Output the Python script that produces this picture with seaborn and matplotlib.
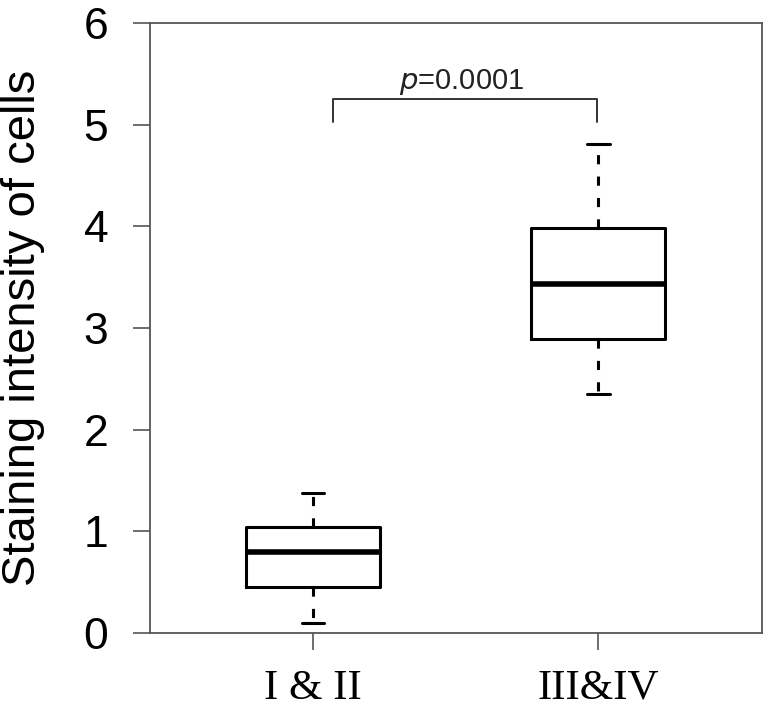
import numpy as np
import pandas as pd
import matplotlib
matplotlib.use("Agg")
import matplotlib.pyplot as plt
import seaborn as sns

# five-number summaries (min, q1, median, q3, max)
groups = ["I & II", "III&IV"]
stage_12 = [0.10, 0.45, 0.80, 1.04, 1.38]
stage_34 = [2.35, 2.89, 3.43, 3.98, 4.81]
p_label = "=0.0001"
y_ticks = [0, 1, 2, 3, 4, 5, 6]

df = pd.DataFrame({
    "group": [groups[0]] * len(stage_12) + [groups[1]] * len(stage_34),
    "value": stage_12 + stage_34,
})

sns.set_style("white")
plt.rcParams["font.family"] = ["Liberation Sans", "DejaVu Sans"]

fig = plt.figure(figsize=(7.67, 7.07), dpi=100)
ax = fig.add_axes([0.1956, 0.1047, 0.7979, 0.8628])

line_kw = dict(color="black", linewidth=2.2)
sns.boxplot(data=df, x="group", y="value", order=groups, ax=ax,
            whis=np.inf, width=0.47, fill=False, color="black",
            boxprops=line_kw,
            medianprops=dict(color="black", linewidth=4),
            whiskerprops=dict(color="black", linewidth=2.2, linestyle=(0, (3, 4))),
            capprops=line_kw,
            capwidths=0.08)

ax.set_xlim(-0.572, 1.575)
ax.set_ylim(0, 6)
ax.set_yticks(y_ticks)
ax.set_xlabel("")
ax.set_ylabel("Staining intensity of cells", fontsize=34, color="black")
ax.yaxis.set_label_coords(-0.172, 0.5)
ax.tick_params(axis="y", labelsize=32, length=12, width=1.2, color="#555555",
               labelcolor="black", direction="out", left=True, pad=18)
ax.tick_params(axis="x", length=12, width=1.2, color="#555555",
               labelcolor="black", direction="out", bottom=True, pad=14)
for lab in ax.get_xticklabels():
    lab.set_fontfamily("Liberation Serif")
    lab.set_fontsize(31)
for s in ax.spines.values():
    s.set_visible(True)
    s.set_color("#555555")
    s.set_linewidth(1.3)

# significance bracket
ax.plot([0.07, 0.07, 0.997, 0.997], [5.03, 5.25, 5.25, 5.03],
        color="#333333", linewidth=1.4)
ax.text(0.52, 5.27, "$p$" + p_label, ha="center", va="bottom", fontsize=21,
        color="#222222")

fig.savefig("out.png", dpi=100)
